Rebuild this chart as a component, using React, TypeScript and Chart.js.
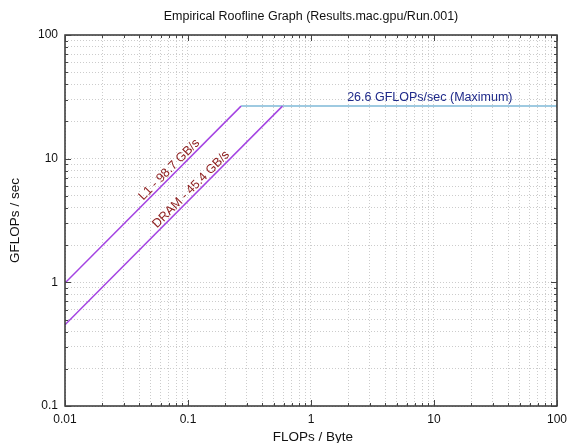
import React, { useEffect, useRef } from "react";
import { Chart, registerables } from "chart.js";

Chart.register(...registerables);

// ---- data ----
const l1X = [0.01, 0.27];
const l1Y = [0.987, 26.6];
const dramX = [0.01, 0.586];
const dramY = [0.454, 26.6];
const peakX = [0.27, 100];
const peakY = [26.6, 26.6];

const xMajorTicks = [0.01, 0.1, 1, 10, 100];
const xMajorLabels = ["0.01", "0.1", "1", "10", "100"];
const xMinorTicks = [
  0.02, 0.03, 0.04, 0.05, 0.06, 0.07, 0.08, 0.09,
  0.2, 0.3, 0.4, 0.5, 0.6, 0.7, 0.8, 0.9,
  2, 3, 4, 5, 6, 7, 8, 9,
  20, 30, 40, 50, 60, 70, 80, 90,
];
const yMajorTicks = [0.1, 1, 10, 100];
const yMajorLabels = ["0.1", "1", "10", "100"];
const yMinorTicks = [
  0.2, 0.3, 0.4, 0.5, 0.6, 0.7, 0.8, 0.9,
  2, 3, 4, 5, 6, 7, 8, 9,
  20, 30, 40, 50, 60, 70, 80, 90,
];

const chartTitle = "Empirical Roofline Graph (Results.mac.gpu/Run.001)";
const xTitle = "FLOPs / Byte";
const yTitle = "GFLOPs / sec";
const lineLabels = ["L1 - 98.7 GB/s", "DRAM - 45.4 GB/s"];
const lineLabelX = [0.0763, 0.1147];
const lineLabelY = [7.53, 5.21];
const peakLabel = "26.6 GFLOPs/sec (Maximum)";
const peakLabelX = 9.25;
const peakLabelY = 26.6;

const FONT = "'Liberation Sans', Arial, Helvetica, sans-serif";
const PURPLE = "#a444e2";
const BLUE = "#9ecae1";
const LABEL_RED = "#8b1a1a";
const LABEL_BLUE = "#1f2a8a";

const same = (a: number, b: number) => Math.abs(Math.log10(a) - Math.log10(b)) < 1e-6;

function buildTicks(majors: number[], minors: number[]) {
  return [...majors, ...minors]
    .sort((a, b) => a - b)
    .map((v) => ({ value: v, major: majors.some((m) => same(m, v)) }));
}

function labelFor(value: number, majors: number[], labels: string[]) {
  for (let i = 0; i < majors.length; i++) if (same(majors[i], value)) return labels[i];
  return "";
}

const decorPlugin = {
  id: "decor",
  afterDatasetsDraw(chart: any) {
    const { ctx, chartArea: a, scales } = chart;
    const xs = scales.x;
    const ys = scales.y;
    ctx.save();

    // frame
    ctx.strokeStyle = "#333";
    ctx.lineWidth = 1.5;
    ctx.strokeRect(a.left, a.top, a.right - a.left, a.bottom - a.top);

    // inward ticks on all four sides
    ctx.lineWidth = 1;
    ctx.strokeStyle = "#444";
    const xt = buildTicks(xMajorTicks, xMinorTicks);
    xt.forEach((t) => {
      const px = Math.round(xs.getPixelForValue(t.value)) + 0.5;
      const len = t.major ? 6 : 3;
      ctx.beginPath();
      ctx.moveTo(px, a.bottom);
      ctx.lineTo(px, a.bottom - len);
      ctx.moveTo(px, a.top);
      ctx.lineTo(px, a.top + len);
      ctx.stroke();
    });
    const yt = buildTicks(yMajorTicks, yMinorTicks);
    yt.forEach((t) => {
      const py = Math.round(ys.getPixelForValue(t.value)) + 0.5;
      const len = t.major ? 6 : 3;
      ctx.beginPath();
      ctx.moveTo(a.left, py);
      ctx.lineTo(a.left + len, py);
      ctx.moveTo(a.right, py);
      ctx.lineTo(a.right - len, py);
      ctx.stroke();
    });

    // rotated bandwidth labels
    const lines = [
      [l1X, l1Y],
      [dramX, dramY],
    ];
    ctx.font = `12.5px ${FONT}`;
    ctx.fillStyle = LABEL_RED;
    ctx.textAlign = "center";
    ctx.textBaseline = "middle";
    lines.forEach(([lx, ly], i) => {
      const x1 = xs.getPixelForValue(lx[0]);
      const y1 = ys.getPixelForValue(ly[0]);
      const x2 = xs.getPixelForValue(lx[1]);
      const y2 = ys.getPixelForValue(ly[1]);
      const ang = Math.atan2(y2 - y1, x2 - x1);
      const px = xs.getPixelForValue(lineLabelX[i]);
      const py = ys.getPixelForValue(lineLabelY[i]);
      const off = 6;
      const ox = px + off * Math.sin(ang);
      const oy = py - off * Math.cos(ang);
      ctx.save();
      ctx.translate(ox, oy);
      ctx.rotate(ang);
      ctx.fillText(lineLabels[i], 0, 0);
      ctx.restore();
    });

    // peak label
    ctx.fillStyle = LABEL_BLUE;
    ctx.fillText(
      peakLabel,
      xs.getPixelForValue(peakLabelX),
      ys.getPixelForValue(peakLabelY) - 9
    );

    // titles
    ctx.fillStyle = "#111";
    ctx.font = `12.5px ${FONT}`;
    ctx.fillText(chartTitle, (a.left + a.right) / 2, 17);
    ctx.font = `13.5px ${FONT}`;
    ctx.fillText(xTitle, (a.left + a.right) / 2 + 2, 437.5);
    ctx.save();
    ctx.translate(15, (a.top + a.bottom) / 2);
    ctx.rotate(-Math.PI / 2);
    ctx.fillText(yTitle, 0, 0);
    ctx.restore();

    ctx.restore();
  },
};

export default function App() {
  const ref = useRef<HTMLCanvasElement | null>(null);

  useEffect(() => {
    document.body.style.margin = "0";
    const canvas = ref.current;
    if (!canvas) return;
    const toPts = (xs: number[], ys: number[]) => xs.map((x, i) => ({ x, y: ys[i] }));
    const chart = new Chart(canvas, {
      type: "line",
      data: {
        datasets: [
          {
            label: "L1",
            data: toPts(l1X, l1Y),
            borderColor: PURPLE,
            borderWidth: 1.5,
            pointRadius: 0,
            fill: false,
          },
          {
            label: "DRAM",
            data: toPts(dramX, dramY),
            borderColor: PURPLE,
            borderWidth: 1.5,
            pointRadius: 0,
            fill: false,
          },
          {
            label: "Peak",
            data: toPts(peakX, peakY),
            borderColor: BLUE,
            borderWidth: 2,
            pointRadius: 0,
            fill: false,
          },
        ],
      },
      options: {
        animation: false,
        responsive: false,
        devicePixelRatio: 1,
        layout: { padding: { left: 0, right: 14, top: 35, bottom: 0 } },
        plugins: {
          legend: { display: false },
          tooltip: { enabled: false },
          title: { display: false },
        },
        scales: {
          x: {
            type: "logarithmic",
            min: 0.01,
            max: 100,
            afterBuildTicks: (scale: any) => {
              scale.ticks = buildTicks(xMajorTicks, xMinorTicks);
            },
            afterFit: (scale: any) => {
              scale.height = 37;
            },
            ticks: {
              autoSkip: false,
              maxRotation: 0,
              padding: 6,
              color: "#111",
              font: { family: FONT, size: 12 },
              callback: (v: any) => labelFor(Number(v), xMajorTicks, xMajorLabels),
            },
            grid: { color: "#cccccc", lineWidth: 1, drawTicks: false },
            border: { display: false, dash: [1, 2] },
          },
          y: {
            type: "logarithmic",
            min: 0.1,
            max: 100,
            afterBuildTicks: (scale: any) => {
              scale.ticks = buildTicks(yMajorTicks, yMinorTicks);
            },
            afterFit: (scale: any) => {
              scale.width = 65;
            },
            ticks: {
              autoSkip: false,
              padding: 7,
              color: "#111",
              font: { family: FONT, size: 12 },
              callback: (v: any) => labelFor(Number(v), yMajorTicks, yMajorLabels),
            },
            grid: { color: "#cccccc", lineWidth: 1, drawTicks: false },
            border: { display: false, dash: [1, 2] },
          },
        },
      },
      plugins: [decorPlugin],
    } as any);
    return () => chart.destroy();
  }, []);

  return (
    <div style={{ width: 573, height: 443 }}>
      <canvas ref={ref} width={573} height={443} />
    </div>
  );
}
